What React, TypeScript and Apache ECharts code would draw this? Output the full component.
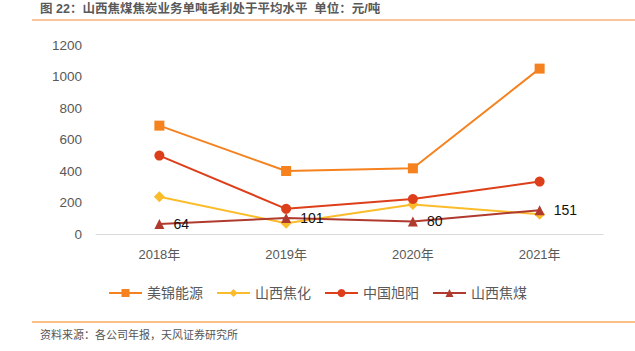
import React, { useEffect, useRef } from "react";
import * as echarts from "echarts";

const categories = ["2018年", "2019年", "2020年", "2021年"];
const seriesNames = ["美锦能源", "山西焦化", "中国旭阳", "山西焦煤"];
const meijin = [688, 400, 417, 1050];
const shanxiJiaohua = [237, 68, 188, 125];
const xuyang = [498, 160, 222, 333];
const shanxiJiaomei = [64, 101, 80, 151];
const yTicks = [0, 200, 400, 600, 800, 1000, 1200];

const colors = ["#F5821F", "#FBBC2C", "#DD3F1A", "#B03A2E"];
const symbols = ["rect", "diamond", "circle", "triangle"];

export default function App() {
  const ref = useRef<HTMLDivElement>(null);
  useEffect(() => {
    const chart = echarts.init(ref.current!, undefined, { renderer: "svg" });
    const font = "'Liberation Sans', 'Noto Sans CJK SC', sans-serif";
    const data = [meijin, shanxiJiaohua, xuyang, shanxiJiaomei];
    chart.setOption({
      animation: false,
      textStyle: { fontFamily: font },
      graphic: [
        {
          type: "text",
          left: 40,
          top: 3,
          style: {
            text: "图 22：山西焦煤焦炭业务单吨毛利处于平均水平  单位：元/吨",
            fontSize: 12.5,
            fontWeight: "bold",
            fill: "#595959",
            fontFamily: font,
          },
        },
        {
          type: "line",
          shape: { x1: 32, y1: 20, x2: 635, y2: 20 },
          style: { stroke: "#F9B27A", lineWidth: 1.5 },
        },
        {
          type: "line",
          shape: { x1: 32, y1: 322, x2: 635, y2: 322 },
          style: { stroke: "#F9A85F", lineWidth: 1.5 },
        },
        {
          type: "text",
          left: 40,
          top: 329,
          style: {
            text: "资料来源：各公司年报，天风证券研究所",
            fontSize: 11,
            fill: "#555",
            fontFamily: font,
          },
        },
      ],
      grid: { left: 96, right: 32, top: 45, bottom: 117 },
      legend: {
        data: seriesNames,
        top: 281,
        left: "center",
        itemWidth: 33,
        itemHeight: 10,
        itemGap: 13,
        textStyle: { fontSize: 14, color: "#595959", fontFamily: font },
      },
      xAxis: {
        type: "category",
        data: categories,
        boundaryGap: true,
        axisLine: { lineStyle: { color: "#d9d9d9" } },
        axisTick: { show: false },
        axisLabel: { color: "#595959", fontSize: 13, margin: 14 },
      },
      yAxis: {
        type: "value",
        min: yTicks[0],
        max: yTicks[yTicks.length - 1],
        interval: 200,
        axisLine: { show: false },
        axisTick: { show: false },
        splitLine: { show: false },
        axisLabel: {
          color: "#595959",
          fontSize: 13.5,
          margin: 14,
          formatter: (v: number) => String(v),
        },
      },
      series: seriesNames.map((name, i) => ({
        name,
        type: "line",
        data: data[i],
        symbol: symbols[i],
        symbolSize: i === 1 ? 11 : 10,
        itemStyle: { color: colors[i] },
        lineStyle: { color: colors[i], width: 2 },
        z: i === 3 ? 5 : 2,
        label:
          i === 3
            ? {
                show: true,
                position: "right",
                distance: 9,
                color: "#111",
                fontSize: 14,
              }
            : { show: false },
      })),
    });
    return () => chart.dispose();
  }, []);
  return <div ref={ref} style={{ width: 635, height: 351, position: "absolute", left: 0, top: 0 }} />;
}
